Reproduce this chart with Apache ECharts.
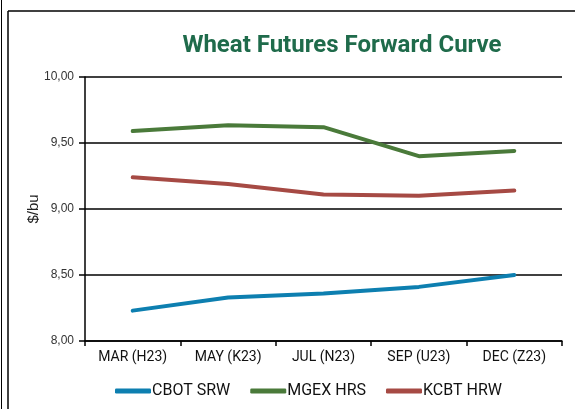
<!DOCTYPE html>
<html>
<head>
<meta charset="utf-8">
<script src="https://cdn.jsdelivr.net/npm/echarts@6/dist/echarts.min.js"></script>
<style>
  html, body { margin: 0; padding: 0; background: #fff; }
  #chart { width: 575px; height: 409px; }
</style>
</head>
<body>
<div id="chart"></div>
<script>
const months = ["MAR (H23)", "MAY (K23)", "JUL (N23)", "SEP (U23)", "DEC (Z23)"];
const cbotSrw = [8.23, 8.33, 8.36, 8.41, 8.50];
const mgexHrs = [9.59, 9.635, 9.62, 9.40, 9.44];
const kcbtHrw = [9.24, 9.19, 9.11, 9.10, 9.14];
const yTicks = { min: 8, max: 10, step: 0.5 };

const narrow = "Roboto, sans-serif";

const chart = echarts.init(document.getElementById("chart"));

function line(name, data, color) {
  return {
    name,
    type: "line",
    data,
    symbol: "none",
    lineStyle: { color, width: 4, cap: "round" },
    itemStyle: { color },
  };
}

chart.setOption({
  animation: false,
  title: {
    text: "Wheat Futures Forward Curve",
    left: 337,
    top: 29,
    textAlign: "center",
    textStyle: { color: "#1f6b4b", fontFamily: narrow, fontWeight: "bold", fontSize: 24 },
  },
  grid: { left: 85, right: 13, top: 77, bottom: 68 },
  legend: {
    bottom: 5,
    left: 110,
    icon: "roundRect",
    itemWidth: 36,
    itemHeight: 5,
    itemGap: 20,
    textStyle: { fontFamily: narrow, fontSize: 16, color: "#111", padding: [0, 0, 0, -4] },
    data: ["CBOT SRW", "MGEX HRS", "KCBT HRW"],
  },
  xAxis: {
    type: "category",
    data: months,
    boundaryGap: true,
    axisLine: { lineStyle: { color: "#000", width: 1.5 } },
    axisTick: { show: true, length: 5, lineStyle: { color: "#000", width: 1.5 } },
    axisLabel: { interval: 0, fontFamily: narrow, fontSize: 14, color: "#111", margin: 9 },
  },
  yAxis: {
    type: "value",
    min: yTicks.min,
    max: yTicks.max,
    interval: yTicks.step,
    name: "$/bu",
    nameLocation: "middle",
    nameGap: 44,
    nameMoveOverlap: false,
    nameTextStyle: { fontFamily: "'Liberation Sans', Arial, sans-serif", fontSize: 15, color: "#222" },
    axisLine: { show: true, lineStyle: { color: "#000", width: 1.5 } },
    axisTick: { show: true, length: 6, lineStyle: { color: "#000", width: 1.5 } },
    axisLabel: {
      fontFamily: "'Liberation Sans', Arial, sans-serif",
      fontSize: 12,
      color: "#333",
      margin: 11,
      formatter: (v) => v.toFixed(2).replace(".", ","),
    },
    splitLine: { lineStyle: { color: "#000", width: 1.5 } },
  },
  series: [
    line("CBOT SRW", cbotSrw, "#0d7fb0"),
    line("MGEX HRS", mgexHrs, "#4a7a3a"),
    line("KCBT HRW", kcbtHrw, "#a64a44"),
  ],
  graphic: [
    { type: "line", shape: { x1: 1.5, y1: 0, x2: 1.5, y2: 409 }, style: { stroke: "#000", lineWidth: 1 } },
    { type: "line", shape: { x1: 8, y1: 11, x2: 8, y2: 409 }, style: { stroke: "#000", lineWidth: 1.5 } },
    { type: "line", shape: { x1: 8, y1: 11, x2: 575, y2: 11 }, style: { stroke: "#000", lineWidth: 1.5 } },
  ],
});
</script>
</body>
</html>
